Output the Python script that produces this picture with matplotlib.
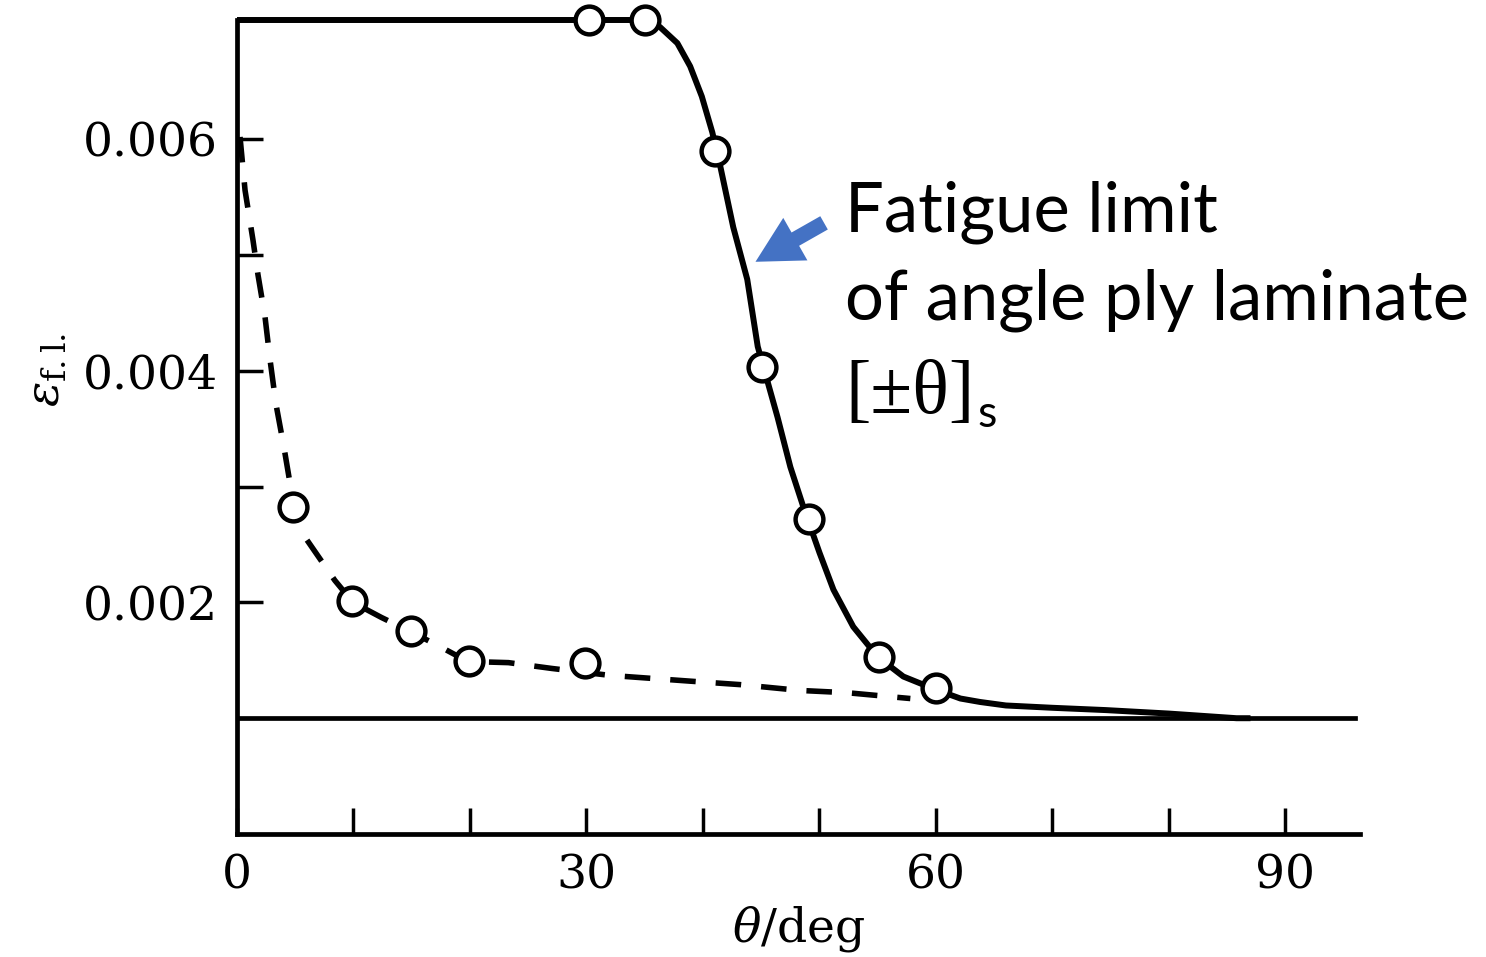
import matplotlib
matplotlib.use("Agg")
import matplotlib.pyplot as plt

# fatigue limit strain vs ply angle
laminate_curve_x = [0, 30, 35, 36.3, 37.8, 38.9, 39.9, 40.8, 41.5, 42.6, 43.8, 44.7, 46.4,
                    47.5, 48.6, 50.0, 51.2, 52.9, 55.0, 57.2, 59.9, 62.1, 63.8, 66, 70,
                    74.6, 80, 85.8, 87]
laminate_curve_y = [0.00703, 0.00703, 0.00703, 0.00697, 0.00683, 0.00663, 0.00637, 0.00606,
                    0.00576, 0.00524, 0.00479, 0.00421, 0.0036, 0.00317, 0.00283, 0.00243,
                    0.00211, 0.00179, 0.00153, 0.00136, 0.00125, 0.00117, 0.00114, 0.00111,
                    0.00109, 0.00107, 0.00104, 0.00100, 0.00100]
laminate_pts_x = [30.2, 35.0, 41.0, 45.1, 49.1, 55.1, 60.0]
laminate_pts_y = [0.00703, 0.00703, 0.0059, 0.00403, 0.00272, 0.00153, 0.00126]

offaxis_curve_x = [0.26, 0.69, 1.37, 1.8, 2.4, 2.83, 3.35, 4.03, 4.55, 4.8, 6.0, 8.4, 9.96,
                   12.4, 14.85, 17.4, 19.8, 23.3, 27.0, 32.0, 38.9, 43.2, 48.3, 52.4, 56.7,
                   57.8]
offaxis_curve_y = [0.00602, 0.00556, 0.00513, 0.00483, 0.00447, 0.0041, 0.00371, 0.00334,
                   0.00303, 0.00282, 0.00254, 0.00219, 0.00200, 0.00187, 0.00175, 0.00162,
                   0.00149, 0.00148, 0.00143, 0.00137, 0.00132, 0.00129, 0.00124, 0.00122,
                   0.00118, 0.00117]
offaxis_pts_x = [4.8, 9.9, 14.9, 19.9, 29.9]
offaxis_pts_y = [0.00282, 0.00201, 0.00175, 0.00149, 0.00148]

matrix_limit = 0.001
x_major = [0, 30, 60, 90]
x_minor = [10, 20, 40, 50, 70, 80]
y_major = [0.002, 0.004, 0.006]
y_minor = [0.003, 0.005]

plt.rcParams["mathtext.fontset"] = "dejavuserif"

fig = plt.figure(figsize=(14.86, 9.57), dpi=100)
ax = fig.add_axes([237 / 1486, 123 / 957, (1360 - 237) / 1486, (834 - 20) / 957])
ax.set_xlim(0, 96.4)
ax.set_ylim(0, 0.00703)

ax.plot(laminate_curve_x, laminate_curve_y, color="black", lw=4.3, clip_on=False,
        solid_capstyle="butt", solid_joinstyle="round", zorder=3)
ax.plot(offaxis_curve_x, offaxis_curve_y, color="black", lw=4.0, dashes=(4.6, 3.6),
        clip_on=False, zorder=3)
ax.plot([0, 96], [matrix_limit, matrix_limit], color="black", lw=3.4, zorder=2)

marker_style = dict(ls="none", marker="o", ms=20, mfc="white", mec="black", mew=3.2,
                    clip_on=False, zorder=4)
ax.plot(laminate_pts_x, laminate_pts_y, **marker_style)
ax.plot(offaxis_pts_x, offaxis_pts_y, **marker_style)

for side in ["top", "right"]:
    ax.spines[side].set_visible(False)
for side in ["left", "bottom"]:
    ax.spines[side].set_linewidth(3.4)

ax.set_xticks(x_major)
ax.set_xticks(x_minor, minor=True)
ax.set_yticks(y_major)
ax.set_yticks(y_minor, minor=True)
ax.set_yticklabels([f"{v:.3f}" for v in y_major])
ax.tick_params(which="both", direction="in", length=19, width=2.5)
ax.tick_params(axis="x", which="major", pad=14)
ax.tick_params(axis="y", which="major", pad=14)
for lab in ax.get_xticklabels() + ax.get_yticklabels():
    lab.set_family("DejaVu Serif")
    lab.set_fontsize(34)

ax.set_xlabel(r"$\theta$/deg", family="DejaVu Serif", fontsize=34, labelpad=4)
ax.text(-0.17, 0.57, r"$\varepsilon_{\mathrm{f.l.}}$", transform=ax.transAxes,
        rotation=90, fontsize=34, ha="center", va="center")

# annotation for the angle ply curve
ax.annotate("", xy=(44.3, 0.00493), xytext=(50.6, 0.00529),
            arrowprops=dict(arrowstyle="simple,head_length=1.5,head_width=1.6,tail_width=0.5",
                            color="#4472C4", lw=0, mutation_scale=22))
ax.text(52.2, 0.0052, "Fatigue limit", family="Lato", fontsize=49.5, va="baseline")
ax.text(52.2, 0.00444, "of angle ply laminate", family="Lato", fontsize=49.5, va="baseline")
t = ax.text(52.2, 0.00364, "[±θ]", family="Liberation Serif", fontsize=55, va="baseline")
ax.annotate("s", xy=(1.0, 0.0), xycoords=t, xytext=(2, 1), textcoords="offset points",
            family="Lato", fontsize=32, va="baseline")

fig.savefig("out.png", dpi=100)
